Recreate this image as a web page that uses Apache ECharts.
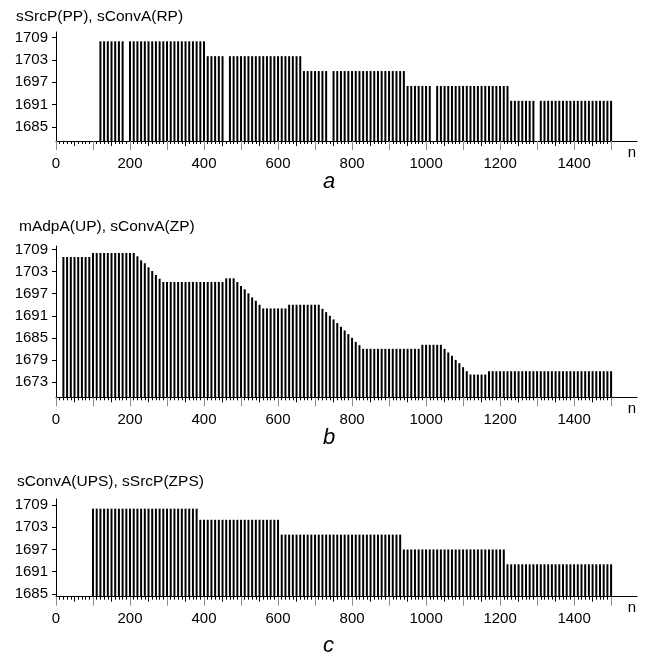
<!DOCTYPE html>
<html>
<head>
<meta charset="utf-8">
<script src="https://cdn.jsdelivr.net/npm/echarts@6/dist/echarts.min.js"></script>
<style>
html,body{margin:0;padding:0;background:#fff;}
#chart{width:645px;height:658px;}
</style>
</head>
<body>
<div id="chart"></div>
<script>
// ---------- data ----------
const panelTitles = ['sSrcP(PP), sConvA(RP)', 'mAdpA(UP), sConvA(ZP)', 'sConvA(UPS), sSrcP(ZPS)'];
const captions = ['a', 'b', 'c'];
const xAxisName = 'n';
const xTickLabels = [0, 200, 400, 600, 800, 1000, 1200, 1400];
const yTickLabelsA = [1685, 1691, 1697, 1703, 1709];
const yTickLabelsB = [1673, 1679, 1685, 1691, 1697, 1703, 1709];
const yTickLabelsC = [1685, 1691, 1697, 1703, 1709];

// sample positions n = 10, 20, ..., 1500
const nValues = Array.from({length: 150}, (_, i) => 10 * (i + 1));

// panel a : sSrcP(PP), sConvA(RP)
const valuesA = [
  null,null,null,null,null,null,null,null,null,null,null,
  1708,1708,1708,1708,1708,1708,1708,
  null,
  1708,1708,1708,1708,1708,1708,1708,1708,1708,1708,
  1708,1708,1708,1708,1708,1708,1708,1708,1708,1708,
  1708,
  1704,1704,1704,1704,1704,
  null,
  1704,1704,1704,1704,1704,1704,1704,1704,1704,1704,
  1704,1704,1704,1704,1704,1704,1704,1704,1704,1704,
  1700,1700,1700,1700,1700,1700,1700,
  null,
  1700,1700,1700,1700,1700,1700,1700,1700,1700,1700,
  1700,1700,1700,1700,1700,1700,1700,1700,1700,1700,
  1696,1696,1696,1696,1696,1696,1696,
  null,
  1696,1696,1696,1696,1696,1696,1696,1696,1696,1696,
  1696,1696,1696,1696,1696,1696,1696,1696,1696,1696,
  1692,1692,1692,1692,1692,1692,1692,
  null,
  1692,1692,1692,1692,1692,1692,1692,1692,1692,1692,
  1692,1692,1692,1692,1692,1692,1692,1692,1692,1692
];

// panel b : mAdpA(UP), sConvA(ZP)
const valuesB = [
  null,
  1707.0,1707.0,1707.0,1707.0,1707.0,1707.0,1707.0,1707.0,
  1708.1,1708.1,1708.1,1708.1,1708.1,1708.1,1708.1,1708.1,1708.1,1708.1,1708.1,1708.1,
  1707.2,1706.1,1705.3,1704.2,1703.2,1702.1,1701.1,
  1700.2,1700.2,1700.2,1700.2,1700.2,1700.2,1700.2,1700.2,1700.2,1700.2,
  1700.2,1700.2,1700.2,1700.2,1700.2,1700.2,1700.2,
  1701.2,1701.2,1701.2,
  1700.2,1699.1,1698.2,1697.1,1696.0,1695.1,1694.0,
  1693.0,1693.0,1693.0,1693.0,1693.0,1693.0,1693.0,
  1694.0,1694.0,1694.0,1694.0,1694.0,1694.0,1694.0,1694.0,1694.0,
  1692.9,1692.0,1691.0,1690.0,1689.0,1688.0,1687.0,1686.0,1685.0,1683.9,1683.0,
  1682.0,1682.0,1682.0,1682.0,1682.0,1682.0,1682.0,1682.0,
  1682.0,1682.0,1682.0,1682.0,1682.0,1682.0,1682.0,1682.0,
  1683.1,1683.1,1683.1,1683.1,1683.1,1683.1,
  1682.0,1681.0,1680.1,1679.0,1678.1,1677.0,1675.9,
  1675.0,1675.0,1675.0,1675.0,1675.0,
  1675.9,1675.9,1675.9,1675.9,1675.9,1675.9,1675.9,1675.9,1675.9,1675.9,
  1675.9,1675.9,1675.9,1675.9,1675.9,1675.9,1675.9,1675.9,1675.9,1675.9,
  1675.9,1675.9,1675.9,1675.9,1675.9,1675.9,1675.9,1675.9,1675.9,1675.9,
  1675.9,1675.9,1675.9,1675.9
];

// panel c : sConvA(UPS), sSrcP(ZPS)
const valuesC = [
  null,null,null,null,null,null,null,null,null,
  1708,1708,1708,1708,1708,1708,1708,1708,1708,1708,
  1708,1708,1708,1708,1708,1708,1708,1708,1708,1708,
  1708,1708,1708,1708,1708,1708,1708,1708,1708,
  1705,1705,1705,1705,1705,1705,1705,1705,1705,1705,
  1705,1705,1705,1705,1705,1705,1705,1705,1705,1705,
  1705,1705,
  1701,1701,1701,1701,1701,1701,1701,1701,1701,1701,
  1701,1701,1701,1701,1701,1701,1701,1701,1701,1701,
  1701,1701,1701,1701,1701,1701,1701,1701,1701,1701,
  1701,1701,1701,
  1697,1697,1697,1697,1697,1697,1697,1697,1697,1697,
  1697,1697,1697,1697,1697,1697,1697,1697,1697,1697,
  1697,1697,1697,1697,1697,1697,1697,1697,
  1693,1693,1693,1693,1693,1693,1693,1693,1693,1693,
  1693,1693,1693,1693,1693,1693,1693,1693,1693,1693,
  1693,1693,1693,1693,1693,1693,1693,1693,1693
];

// tick positions along n
const ticks10 = [], ticks50 = [], ticks100 = [];
for (let n = 0; n <= 1500; n += 10) {
  if (n % 100 === 0) ticks100.push(n);
  else if (n % 50 === 0) ticks50.push(n);
  else ticks10.push(n);
}

// ---------- layout ----------
const FONT = "'Liberation Sans', Arial, sans-serif";
const plain = v => String(Math.round(v));
const panels = [
  {vals: valuesA, yt: yTickLabelsA, top: 32, height: 109, min: 1681.2, max: 1710.5, titleLeft: 16, titleTop: 9, capTop: 171},
  {vals: valuesB, yt: yTickLabelsB, top: 246, height: 151.3, min: 1668.8, max: 1710, titleLeft: 19, titleTop: 219, capTop: 427},
  {vals: valuesC, yt: yTickLabelsC, top: 499, height: 97.7, min: 1684.27, max: 1710.6, titleLeft: 17, titleTop: 474, capTop: 635}
];

const grid = [], xAxis = [], yAxis = [], series = [], title = [];
panels.forEach((p, g) => {
  grid.push({left: 56, right: 8, top: p.top, height: p.height, containLabel: false});
  const base = {type: 'value', gridIndex: g, min: 0, max: 1570, position: 'bottom',
                splitLine: {show: false}};
  xAxis.push(Object.assign({}, base, {
    axisLine: {show: true, onZero: false, lineStyle: {color: '#000', width: 1}},
    axisTick: {show: true, customValues: ticks10, length: 3, lineStyle: {color: '#000', width: 1}},
    axisLabel: {show: true, customValues: xTickLabels, formatter: plain, margin: 15, fontSize: 15, color: '#000', fontFamily: FONT},
    name: xAxisName, nameLocation: 'end', nameGap: -5,
    nameTextStyle: {fontSize: 15, color: '#000', fontFamily: FONT, align: 'center', verticalAlign: 'top', padding: [4, 0, 0, 0]}
  }));
  xAxis.push(Object.assign({}, base, {
    axisLine: {show: false, onZero: false},
    axisTick: {show: true, customValues: ticks50, length: 5, lineStyle: {color: '#000', width: 1}},
    axisLabel: {show: false}
  }));
  xAxis.push(Object.assign({}, base, {
    axisLine: {show: false, onZero: false},
    axisTick: {show: true, customValues: ticks100, length: 9, lineStyle: {color: '#8c8c8c', width: 1}},
    axisLabel: {show: false}
  }));
  yAxis.push({
    type: 'value', gridIndex: g, min: p.min, max: p.max,
    splitLine: {show: false},
    axisLine: {show: true, lineStyle: {color: '#000', width: 1}},
    axisTick: {show: true, customValues: p.yt, length: 4, lineStyle: {color: '#000', width: 1}},
    axisLabel: {show: true, customValues: p.yt, formatter: plain, margin: 8, fontSize: 15, color: '#000', fontFamily: FONT}
  });
  const data = [];
  nValues.forEach((n, i) => { if (p.vals[i] != null) data.push([n, p.vals[i]]); });
  series.push({
    type: 'bar', xAxisIndex: g * 3, yAxisIndex: g, data: data,
    barWidth: 2, clip: true, silent: true,
    itemStyle: {color: '#000'}
  });
  title.push({text: panelTitles[g], left: p.titleLeft, top: p.titleTop, padding: 0,
    textStyle: {fontSize: 15.5, fontWeight: 'normal', color: '#000', fontFamily: FONT}});
  title.push({text: captions[g], left: 323, top: p.capTop, padding: 0,
    textStyle: {fontSize: 22, fontStyle: 'italic', fontWeight: 'normal', color: '#000', fontFamily: FONT}});
});

const chart = echarts.init(document.getElementById('chart'), null, {renderer: 'canvas'});
chart.setOption({
  animation: false,
  backgroundColor: '#fff',
  title: title,
  grid: grid,
  xAxis: xAxis,
  yAxis: yAxis,
  series: series
});
</script>
</body>
</html>
